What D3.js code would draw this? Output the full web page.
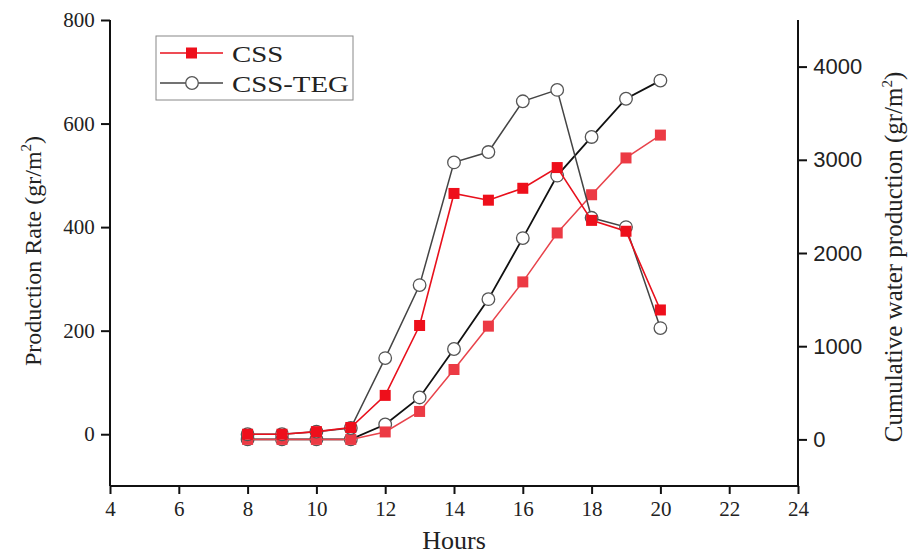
<!DOCTYPE html>
<html><head><meta charset="utf-8">
<script src="https://cdn.jsdelivr.net/npm/d3@7"></script>
<style>body{margin:0;background:#fff}svg{display:block}</style>
</head><body>
<script>
const hours = [8,9,10,11,12,13,14,15,16,17,18,19,20];
const cssRate = [0,0,5,13,75,210,465,452,475,515,413,392,240];
const tegRate = [0,0,5,12,147,288,525,545,643,665,418,400,205];
const cssCum = [0,0,0,0,80,300,750,1215,1690,2215,2625,3020,3265];
const tegCum = [0,0,0,0,160,450,970,1505,2160,2830,3245,3655,3850];
const xTicks = [4,6,8,10,12,14,16,18,20,22,24];
const yLeftTicks = [0,200,400,600,800];
const yRightTicks = [0,1000,2000,3000,4000];

const W=909,H=557;
const svg=d3.select("body").append("svg").attr("width",W).attr("height",H);
const x=d3.scaleLinear().domain([4,24]).range([110,798]);
const yL=d3.scaleLinear().domain([-100,800]).range([486,20]);
const yR=d3.scaleLinear().domain([-500,4500]).range([486,20]);

const serif="'Liberation Serif','Times New Roman',serif";
const sans="'Liberation Sans',Arial,sans-serif";

// bottom axis
const gx=svg.append("g").attr("transform","translate(0,486)");
gx.call(d3.axisBottom(x).tickValues(d3.range(4,25,1)).tickSize(6).tickFormat(""));
gx.call(d3.axisBottom(x).tickValues(xTicks).tickSize(8).tickFormat(d=>d));
gx.selectAll("text").attr("font-family",serif).attr("font-size",21).attr("fill","#222").attr("dy","0.9em");
gx.selectAll("path,line").attr("stroke","#111").attr("stroke-width",2);
gx.selectAll("path.domain").attr("d","M110,0H798");

// left axis
const gl=svg.append("g").attr("transform","translate(110,0)");
gl.call(d3.axisLeft(yL).tickValues(d3.range(-100,801,100)).tickSize(6).tickFormat(""));
gl.call(d3.axisLeft(yL).tickValues(yLeftTicks).tickSize(9).tickFormat(d=>d));
gl.selectAll("text").attr("font-family",serif).attr("font-size",21).attr("fill","#222").attr("dx","-0.15em");
gl.selectAll("path,line").attr("stroke","#111").attr("stroke-width",2);
gl.selectAll("path.domain").attr("d","M0,486V20");

// right axis
const gr=svg.append("g").attr("transform","translate(798,0)");
gr.call(d3.axisRight(yR).tickValues(d3.range(-500,4501,500)).tickSize(5).tickFormat(""));
gr.call(d3.axisRight(yR).tickValues(yRightTicks).tickSize(9).tickFormat(d=>d));
gr.selectAll("text").attr("font-family",sans).attr("font-size",22).attr("fill","#222").attr("dx","0.15em");
gr.selectAll("path,line").attr("stroke","#111").attr("stroke-width",2);
gr.selectAll("path.domain").attr("d","M0,486V20");

// axis titles
svg.append("text").attr("x",454).attr("y",549).attr("text-anchor","middle")
  .attr("font-family",serif).attr("font-size",26).attr("fill","#222").text("Hours");
const lt=svg.append("text").attr("transform","translate(41,251) rotate(-90)").attr("text-anchor","middle")
  .attr("font-family",serif).attr("font-size",24).attr("fill","#222");
lt.append("tspan").text("Production Rate (gr/m");
lt.append("tspan").attr("dy",-10).attr("font-size",15).text("2");
lt.append("tspan").attr("dy",10).text(")");
const rt=svg.append("text").attr("transform","translate(902,257) rotate(-90)").attr("text-anchor","middle")
  .attr("font-family",serif).attr("font-size",25).attr("fill","#222");
rt.append("tspan").text("Cumulative water production (gr/m");
rt.append("tspan").attr("dy",-10).attr("font-size",15).text("2");
rt.append("tspan").attr("dy",10).text(")");

// series
const series=[
  {vals:tegCum, y:yR, color:"#111", w:1.8, marker:"circle"},
  {vals:cssCum, y:yR, color:"#e8434b", w:1.5, marker:"squareLight"},
  {vals:tegRate, y:yL, color:"#444", w:1.5, marker:"circle"},
  {vals:cssRate, y:yL, color:"#e8101c", w:1.6, marker:"square"}
];
series.forEach(s=>{
  const data=hours.map((h,i)=>[h,s.vals[i]]);
  svg.append("path").datum(data).attr("fill","none").attr("stroke",s.color).attr("stroke-width",s.w)
    .attr("d",d3.line().x(d=>x(d[0])).y(d=>s.y(d[1])));
  const g=svg.append("g");
  if(s.marker==="circle"){
    g.selectAll("circle").data(data).join("circle").attr("cx",d=>x(d[0])).attr("cy",d=>s.y(d[1]))
      .attr("r",6.3).attr("fill","#fff").attr("stroke","#555").attr("stroke-width",1.3);
  } else {
    const fill = s.marker==="square" ? "#ee0f1b" : "#ec3a44";
    g.selectAll("rect").data(data).join("rect").attr("x",d=>x(d[0])-5.5).attr("y",d=>s.y(d[1])-5.5)
      .attr("width",11).attr("height",11).attr("fill",fill);
  }
});

// legend
const lg=svg.append("g");
lg.append("rect").attr("x",156).attr("y",36).attr("width",197).attr("height",64).attr("fill","#fff").attr("stroke","#888").attr("stroke-width",1);
lg.append("line").attr("x1",160).attr("x2",223).attr("y1",53).attr("y2",53).attr("stroke","#e8101c").attr("stroke-width",1.6);
lg.append("rect").attr("x",186).attr("y",47.5).attr("width",11).attr("height",11).attr("fill","#ee0f1b");
lg.append("line").attr("x1",160).attr("x2",223).attr("y1",83).attr("y2",83).attr("stroke","#444").attr("stroke-width",1.5);
lg.append("circle").attr("cx",192).attr("cy",83).attr("r",6.3).attr("fill","#fff").attr("stroke","#555").attr("stroke-width",1.3);
lg.append("text").attr("transform","translate(232,62) scale(1.2,1)").attr("font-family",serif).attr("font-size",24).attr("fill","#222").text("CSS");
lg.append("text").attr("transform","translate(232,92) scale(1.2,1)").attr("font-family",serif).attr("font-size",24).attr("fill","#222").text("CSS-TEG");
</script>
</body></html>
